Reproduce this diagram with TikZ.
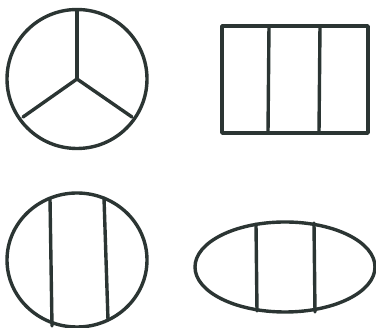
\documentclass[tikz,border=0pt]{standalone}
\usepackage{tikz}
\usetikzlibrary{positioning}
\definecolor{inkgrey}{HTML}{2B3533}

\begin{document}
\begin{tikzpicture}[x=1pt, y=-1pt,
    pen/.style={draw=inkgrey, line width=3.4pt, line join=round, line cap=round}
]
    \useasboundingbox (0,0) rectangle (376,328);

    % Circle in three parts
    \coordinate (hub) at (77,79);
    \draw [pen] (hub) ellipse [x radius=70, y radius=69.5];
    \draw [pen] (hub) -- (77,10);
    \draw [pen] (hub) -- (23,117);
    \draw [pen] (hub) -- (132,117);

    % Rectangle in three strips
    \draw [pen] (222,26) rectangle (368,133);
    \draw [pen] (269,26) -- (268,133);
    \draw [pen] (320,26) -- (319,133);

    % Circle with two chords
    \coordinate (disc) at (77,260);
    \draw [pen] (disc) ellipse [x radius=70, y radius=67];
    \draw [pen] (50,199) -- (52,326);
    \draw [pen] (104,198) -- (108,320);

    % Ellipse with two chords
    \coordinate (oval) at (285,267);
    \draw [pen] (oval) ellipse [x radius=90, y radius=45];
    \draw [pen] (256,224) -- (257,311);
    \draw [pen] (314,223) -- (315,312);
\end{tikzpicture}
\end{document}
